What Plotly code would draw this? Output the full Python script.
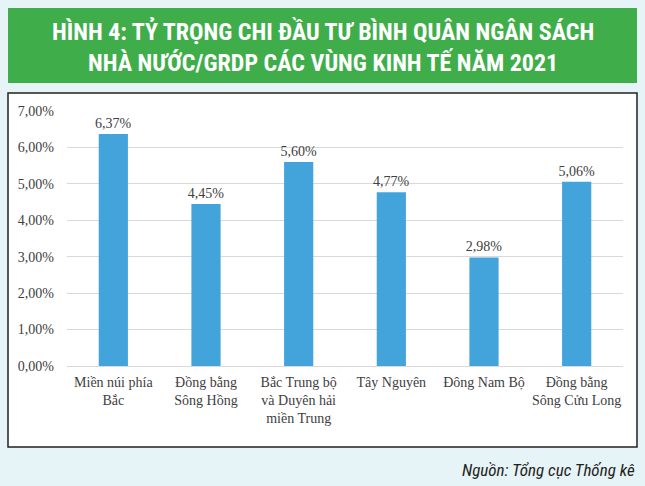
import plotly.graph_objects as go

categories = ["Miền núi phía<br>Bắc", "Đồng bằng<br>Sông Hồng", "Bắc Trung bộ<br>và Duyên hải<br>miền Trung",
              "Tây Nguyên", "Đông Nam Bộ", "Đồng bằng<br>Sông Cửu Long"]
values = [6.37, 4.45, 5.60, 4.77, 2.98, 5.06]
y_ticks = [0, 1, 2, 3, 4, 5, 6, 7]
y_tick_labels = ["0,00%", "1,00%", "2,00%", "3,00%", "4,00%", "5,00%", "6,00%", "7,00%"]

W, H = 645, 486
L, R, T, B = 67, 22, 111, 120
PW, PH = W - L - R, H - T - B
BG = "#e6f3f7"

def px(x):
    return (x - L) / PW

def py(y):
    return (H - B - y) / PH

fig = go.Figure(go.Bar(
    x=categories, y=values,
    marker=dict(color="#43a4dc", line=dict(width=0)),
    texttemplate="%{y:.2f}%", textposition="outside", constraintext="none",
    textfont=dict(family="Liberation Serif, Times New Roman, serif", size=14, color="#404040"),
    cliponaxis=False,
))

fig.update_layout(
    width=W, height=H,
    margin=dict(l=L, r=R, t=T, b=B),
    paper_bgcolor=BG, plot_bgcolor="white",
    separators=", ",
    bargap=0.685,
    showlegend=False,
    font=dict(family="Liberation Serif, Times New Roman, serif", size=14, color="#404040"),
    xaxis=dict(showgrid=False, showline=False, ticks="", tickangle=0,
               tickfont=dict(size=14, color="#404040"), ticklabelstandoff=6),
    yaxis=dict(range=[0, 7], tickmode="array", tickvals=y_ticks, ticktext=y_tick_labels,
               showgrid=True, gridcolor="#d9d9d9", gridwidth=1, zeroline=True,
               zerolinecolor="#d9d9d9", zerolinewidth=1, showline=False, ticks="",
               tickfont=dict(size=14, color="#404040"), ticklabelstandoff=12),
    shapes=[
        dict(type="rect", xref="paper", yref="paper", layer="below",
             x0=px(8), x1=px(637), y0=py(447), y1=py(93),
             fillcolor="white", line=dict(color="#222222", width=1.5)),
        dict(type="rect", xref="paper", yref="paper", layer="below",
             x0=px(8), x1=px(637), y0=py(83), y1=py(8),
             fillcolor="#3fae4a", line=dict(width=0)),
    ],
    annotations=[
        dict(xref="paper", yref="paper", x=px(322.5), y=py(46.5), xanchor="center", yanchor="middle",
             text="<b>HÌNH 4: TỶ TRỌNG CHI ĐẦU TƯ BÌNH QUÂN NGÂN SÁCH<br>NHÀ NƯỚC/GRDP CÁC VÙNG KINH TẾ NĂM 2021</b>",
             showarrow=False, align="center",
             font=dict(family="Liberation Sans Narrow, Roboto Condensed, Arial Narrow, DejaVu Sans Condensed, sans-serif",
                       size=24, color="white")),
        dict(xref="paper", yref="paper", x=px(637), y=py(470), xanchor="right", yanchor="middle",
             text="<i>Nguồn: Tổng cục Thống kê</i>", showarrow=False,
             font=dict(family="Liberation Sans Narrow, Roboto Condensed, Arial Narrow, sans-serif",
                       size=17, color="#231f20")),
    ],
)

fig.write_html("out.html", config={"displayModeBar": False},
               post_script="document.body.style.margin='0';document.body.style.background='%s';" % BG)
